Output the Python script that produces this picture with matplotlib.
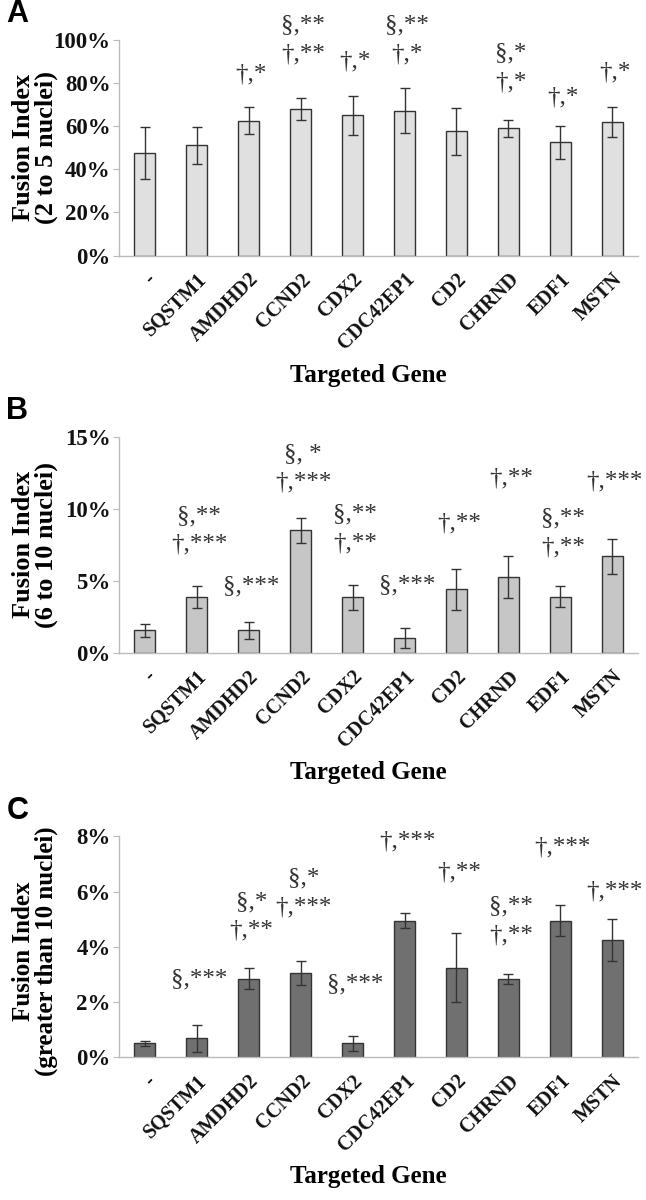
import numpy as np
import matplotlib.pyplot as plt
import matplotlib.transforms as mtransforms
from matplotlib.ticker import FuncFormatter

genes = ["-", "SQSTM1", "AMDHD2", "CCND2", "CDX2", "CDC42EP1", "CD2", "CHRND", "EDF1", "MSTN"]

# panel A: 2 to 5 nuclei (%)
a_vals = [47.5, 51.0, 62.5, 68.0, 65.0, 67.0, 57.5, 59.0, 52.5, 62.0]
a_err = [12.0, 8.7, 6.2, 5.0, 9.0, 10.4, 11.0, 4.0, 7.7, 7.0]
a_marks = ["", "", "†,*", "§,**\n†,**", "†,*", "§,**\n†,*", "", "§,*\n†,*", "†,*", "†,*"]
a_mark_y = [0, 0, 84, 100, 90, 100, 0, 87, 73, 85]

# panel B: 6 to 10 nuclei (%)
b_vals = [1.55, 3.9, 1.55, 8.5, 3.85, 1.05, 4.4, 5.25, 3.9, 6.7]
b_err = [0.45, 0.77, 0.57, 0.85, 0.85, 0.7, 1.45, 1.45, 0.75, 1.2]
b_marks = ["", "§,**\n†,***", "§,***", "§, *\n†,***", "§,**\n†,**", "§,***", "†,**", "†,**", "§,**\n†,**", "†,***"]
b_mark_y = [0, 8.5, 4.6, 12.8, 8.6, 4.7, 9.0, 12.1, 8.3, 11.9]

# panel C: greater than 10 nuclei (%)
c_vals = [0.5, 0.68, 2.85, 3.05, 0.5, 4.95, 3.25, 2.85, 4.95, 4.25]
c_err = [0.09, 0.48, 0.37, 0.45, 0.27, 0.28, 1.25, 0.18, 0.56, 0.76]
c_marks = ["", "§,***", "§,*\n†,**", "§,*\n†,***", "§,***", "†,***", "†,**", "§,**\n†,**", "†,***", "†,***"]
c_mark_y = [0, 2.8, 5.1, 5.95, 2.65, 7.8, 6.7, 4.95, 7.6, 6.0]

serif = "Liberation Serif"

panels = [
    ("A", a_vals, a_err, a_marks, a_mark_y, "#e0e0e0", 100, 20, "Fusion Index\n(2 to 5 nuclei)", [0.184, 0.787, 0.804, 0.180]),
    ("B", b_vals, b_err, b_marks, b_mark_y, "#c6c6c6", 15, 5, "Fusion Index\n(6 to 10 nuclei)", [0.184, 0.456, 0.804, 0.180]),
    ("C", c_vals, c_err, c_marks, c_mark_y, "#707070", 8, 2, "Fusion Index\n(greater than 10 nuclei)", [0.184, 0.119, 0.804, 0.184]),
]

fig = plt.figure(figsize=(6.46, 12), dpi=100)

x = np.arange(len(genes))
for letter, vals, err, marks, mark_y, color, ymax, step, ylab, pos in panels:
    ax = fig.add_axes(pos)
    ax.bar(x, vals, width=0.41, color=color, edgecolor="#333333", linewidth=1.0, zorder=2)
    ax.errorbar(x, vals, yerr=err, fmt="none", ecolor="#333333", elinewidth=1.0,
                capsize=3.5, capthick=1.0, zorder=3)
    for i, m in enumerate(marks):
        if m:
            ax.text(x[i] + 0.05, mark_y[i], m, ha="center", va="center", fontsize=18,
                    family=[serif, "DejaVu Serif"], color="#333333", linespacing=1.4,
                    clip_on=False)
    ax.set_xlim(-0.5, 9.5)
    ax.set_ylim(0, ymax)
    ax.set_yticks(np.arange(0, ymax + 0.01, step))
    ax.yaxis.set_major_formatter(FuncFormatter(lambda v, p: f"{v:.0f}%"))
    ax.set_xticks(x)
    ax.set_xticklabels(genes, rotation=45, ha="right", va="top", rotation_mode="anchor",
                       fontsize=14.5, fontweight="bold", family=serif, color="#111111")
    shift = mtransforms.ScaledTranslation(10 / 100, 0, fig.dpi_scale_trans)
    for lab in ax.get_xticklabels():
        lab.set_transform(lab.get_transform() + shift)
    for lab in ax.get_yticklabels():
        lab.set_fontsize(16.5)
        lab.set_fontweight("bold")
        lab.set_family(serif)
        lab.set_color("#111111")
    ax.tick_params(axis="x", length=0, pad=10)
    ax.tick_params(axis="y", length=4, color="#bbbbbb", pad=2)
    for s in ["top", "right"]:
        ax.spines[s].set_visible(False)
    for s in ["left", "bottom"]:
        ax.spines[s].set_color("#bbbbbb")
        ax.spines[s].set_linewidth(1.0)
    ylab_size = 18 if letter == "C" else 19
    ax.set_ylabel(ylab, fontsize=ylab_size, fontweight="bold", family=serif, linespacing=0.95)
    ax.yaxis.set_label_coords(-0.118, 0.48 if letter == "C" else 0.5)
    ax.set_xlabel("Targeted Gene", fontsize=18, fontweight="bold", family=serif)
    h_px = pos[3] * 1200
    ax.xaxis.set_label_coords(0.48, -108 / h_px)
    top = pos[1] + pos[3]
    fig.text(0.010, top + 0.034, letter, fontsize=22,
             fontweight="bold", family="Liberation Sans", va="top")

fig.savefig("out.png", dpi=100)
